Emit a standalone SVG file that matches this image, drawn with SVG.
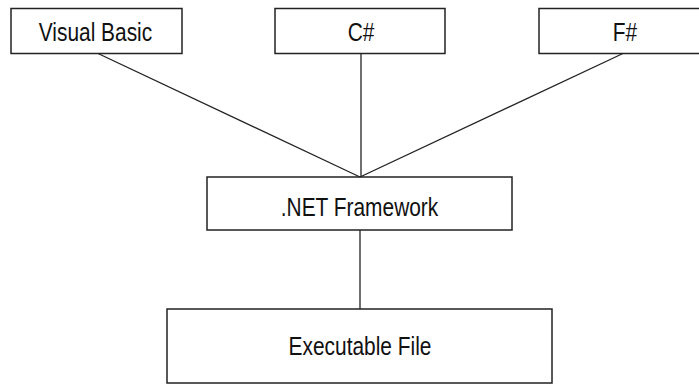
<svg xmlns="http://www.w3.org/2000/svg" width="699" height="384" viewBox="0 0 699 384">
<style>
.box{fill:#fff;stroke:#222;stroke-width:1.5}
.lbl{font-family:"Liberation Sans",Arial,sans-serif;font-size:25.5px;fill:#111;text-anchor:middle}
.con{stroke:#222;stroke-width:1.3;fill:none}
</style>
<rect width="699" height="384" fill="#fff"/>
<g id="connectors">
<line class="con" x1="97" y1="53" x2="360" y2="177"/>
<line class="con" x1="361" y1="53" x2="361" y2="177"/>
<line class="con" x1="624" y1="53" x2="360" y2="177"/>
<line class="con" x1="360" y1="230" x2="360" y2="309"/>
</g>
<g id="vb">
<rect class="box" x="11" y="8.5" width="171" height="45"/>
<text class="lbl" transform="translate(95.5,41) scale(0.82,1)">Visual Basic</text>
</g>
<g id="cs">
<rect class="box" x="275" y="8.5" width="170" height="45"/>
<text class="lbl" transform="translate(361,41) scale(0.82,1)">C#</text>
</g>
<g id="fs">
<rect class="box" x="539" y="8.5" width="170" height="45"/>
<text class="lbl" transform="translate(625,41) scale(0.82,1)">F#</text>
</g>
<g id="net">
<rect class="box" x="207" y="177" width="305" height="53"/>
<text class="lbl" transform="translate(359.5,215.5) scale(0.82,1)">.NET Framework</text>
</g>
<g id="exe">
<rect class="box" x="167" y="309" width="385" height="74"/>
<text class="lbl" transform="translate(360,354.5) scale(0.82,1)">Executable File</text>
</g>
</svg>
